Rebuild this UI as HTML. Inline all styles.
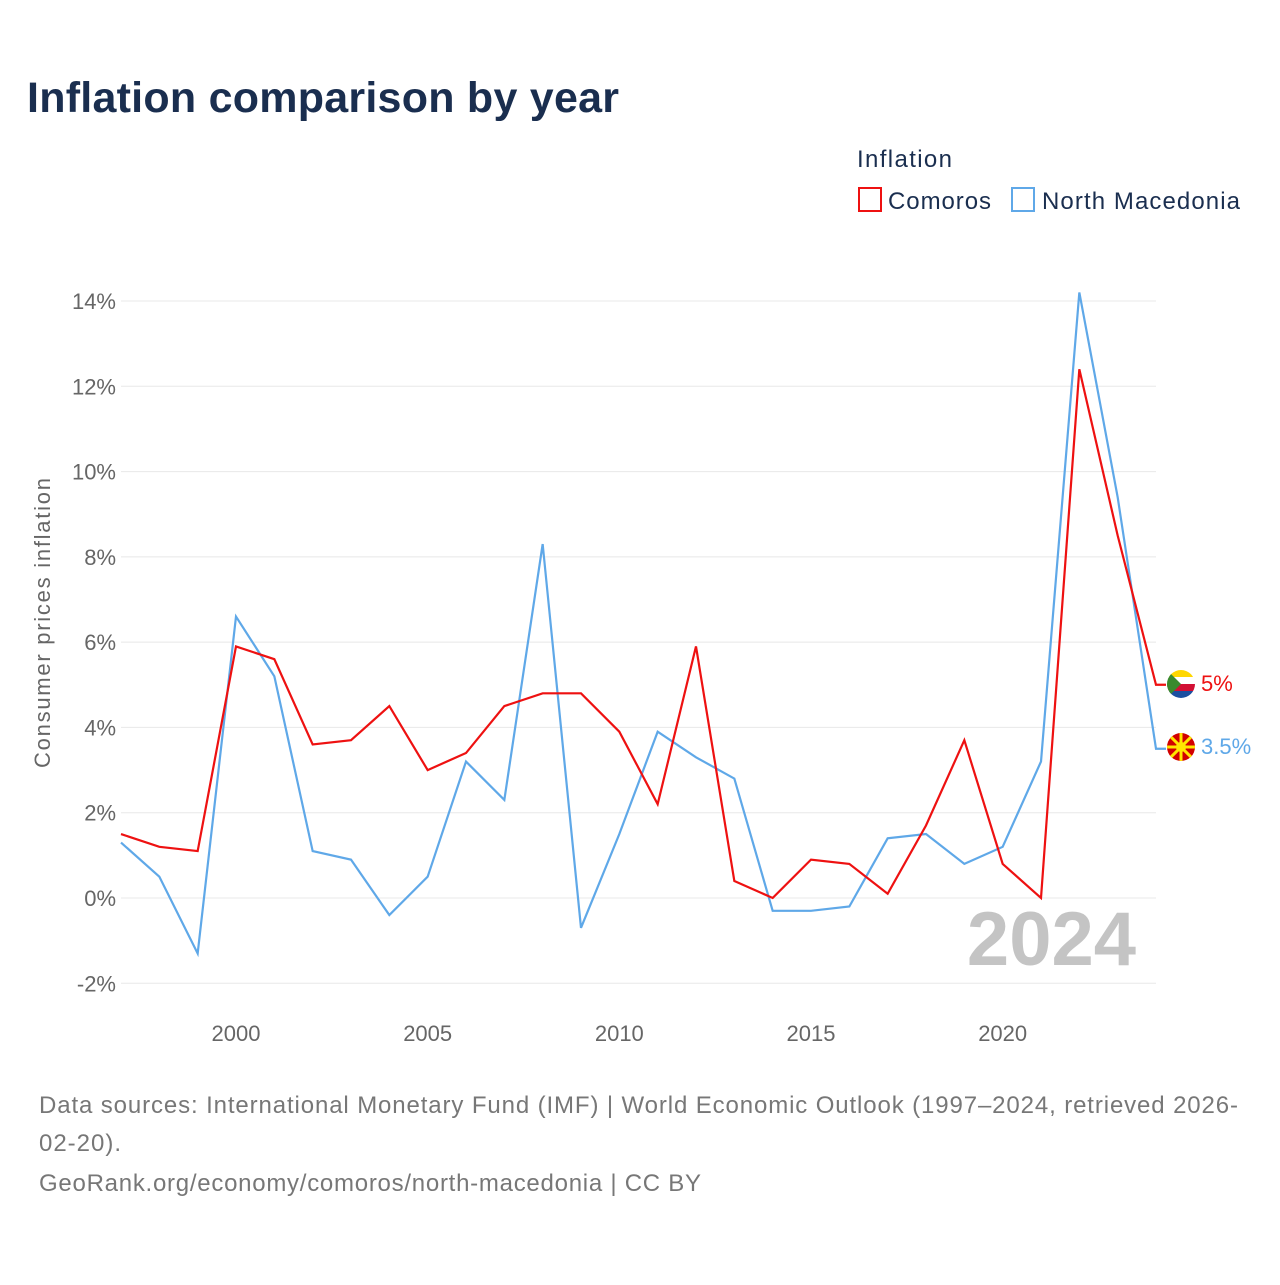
<!DOCTYPE html>
<html><head><meta charset="utf-8"><style>
body{margin:0;background:#fff;font-family:"Liberation Sans",sans-serif;}
svg text{font-family:"Liberation Sans",sans-serif;}
</style></head><body>
<svg id="chart" width="1280" height="1280" xmlns="http://www.w3.org/2000/svg">
<text x="27" y="112" font-size="43" font-weight="bold" fill="#1a2e4f" textLength="592">Inflation comparison by year</text>
<text x="857" y="167" font-size="24" fill="#1a2e4f" textLength="95">Inflation</text>
<g><rect x="859" y="188" width="22" height="23" fill="none" stroke="#ee1111" stroke-width="2"/><text x="888" y="209" font-size="24" fill="#1a2e4f" textLength="103">Comoros</text></g>
<g><rect x="1012" y="188" width="22" height="23" fill="none" stroke="#5fa8e8" stroke-width="2"/><text x="1042" y="209" font-size="24" fill="#1a2e4f" textLength="198">North Macedonia</text></g>
<g id="grid"></g>
<g id="yt"></g>
<g id="xt"></g>
<text transform="translate(50,623) rotate(-90)" text-anchor="middle" font-size="22" fill="#666" textLength="290">Consumer prices inflation</text>
<text x="1136" y="965" text-anchor="end" font-size="76" font-weight="bold" fill="#c4c4c4">2024</text>
<g id="series"></g>
<g>
<clipPath id="c1"><circle cx="1181" cy="684" r="14"/></clipPath>
<g clip-path="url(#c1)"><rect x="1167" y="670" width="28" height="7" fill="#ffd700"/><rect x="1167" y="677" width="28" height="7" fill="#fff"/><rect x="1167" y="684" width="28" height="7" fill="#d21034"/><rect x="1167" y="691" width="28" height="7" fill="#1b4fa0"/><polygon points="1167,670 1181,684 1167,698" fill="#3a8a2e"/></g></g>
<g>
<clipPath id="c2"><circle cx="1181" cy="747" r="14"/></clipPath>
<g clip-path="url(#c2)"><rect x="1167" y="733" width="28" height="28" fill="#d20000"/>
<g stroke="#ffe600" stroke-width="3"><line x1="1167" y1="733" x2="1195" y2="761"/><line x1="1195" y1="733" x2="1167" y2="761"/><line x1="1181" y1="733" x2="1181" y2="761"/><line x1="1167" y1="747" x2="1195" y2="747"/></g><circle cx="1181" cy="747" r="5" fill="#ffe600"/></g></g>
<text x="1201" y="691" font-size="22" fill="#ee1111">5%</text>
<text x="1201" y="754" font-size="22" fill="#5fa8e8">3.5%</text>
<text x="39" y="1113" font-size="24" fill="#777" textLength="1199">Data sources: International Monetary Fund (IMF) | World Economic Outlook (1997–2024, retrieved 2026-</text>
<text x="39" y="1151" font-size="24" fill="#777" textLength="82">02-20).</text>
<text x="39" y="1191" font-size="24" fill="#777" textLength="662">GeoRank.org/economy/comoros/north-macedonia | CC BY</text>
</svg>
<script>
const years=[1997,1998,1999,2000,2001,2002,2003,2004,2005,2006,2007,2008,2009,2010,2011,2012,2013,2014,2015,2016,2017,2018,2019,2020,2021,2022,2023,2024];
const comoros=[1.5,1.2,1.1,5.9,5.6,3.6,3.7,4.5,3.0,3.4,4.5,4.8,4.8,3.9,2.2,5.9,0.4,0.0,0.9,0.8,0.1,1.7,3.7,0.8,0.0,12.4,8.5,5.0];
const macedonia=[1.3,0.5,-1.3,6.6,5.2,1.1,0.9,-0.4,0.5,3.2,2.3,8.3,-0.7,1.5,3.9,3.3,2.8,-0.3,-0.3,-0.2,1.4,1.5,0.8,1.2,3.2,14.2,9.4,3.5];
const yTicks=[-2,0,2,4,6,8,10,12,14];
const xTicks=[2000,2005,2010,2015,2020];
const X=y=>121+(y-1997)*(1156-121)/27;
const Y=v=>898-v*(898-301)/14;
const NS='http://www.w3.org/2000/svg';
function mk(t,a,p){const e=document.createElementNS(NS,t);for(const k in a)e.setAttribute(k,a[k]);p.appendChild(e);return e;}
const grid=document.getElementById('grid'),yt=document.getElementById('yt'),xt=document.getElementById('xt'),ser=document.getElementById('series');
yTicks.forEach(v=>{
 const l=mk('line',{x1:121,x2:1156,y1:Y(v),y2:Y(v),stroke:'#e8e8e8','stroke-width':1},grid);
 
 
 const t=mk('text',{x:116,y:Y(v)+8,'text-anchor':'end','font-size':22,fill:'#666'},yt);
 t.textContent=v+'%';
 
 
});
xTicks.forEach(v=>{
 const t=mk('text',{x:X(v),y:1041,'text-anchor':'middle','font-size':22,fill:'#666'},xt);
 t.textContent=v;
 
 
});
function line(d,c,n){
 const p=mk('polyline',{points:d.map((v,i)=>X(years[i])+','+Y(v)).join(' ')+' '+(X(2024)+10)+','+Y(d[d.length-1]),fill:'none',stroke:c,'stroke-width':2.2},ser);
 
 
}
line(macedonia,'#5fa8e8','line-north-macedonia');
line(comoros,'#ee1111','line-comoros');
</script>
</body></html>
